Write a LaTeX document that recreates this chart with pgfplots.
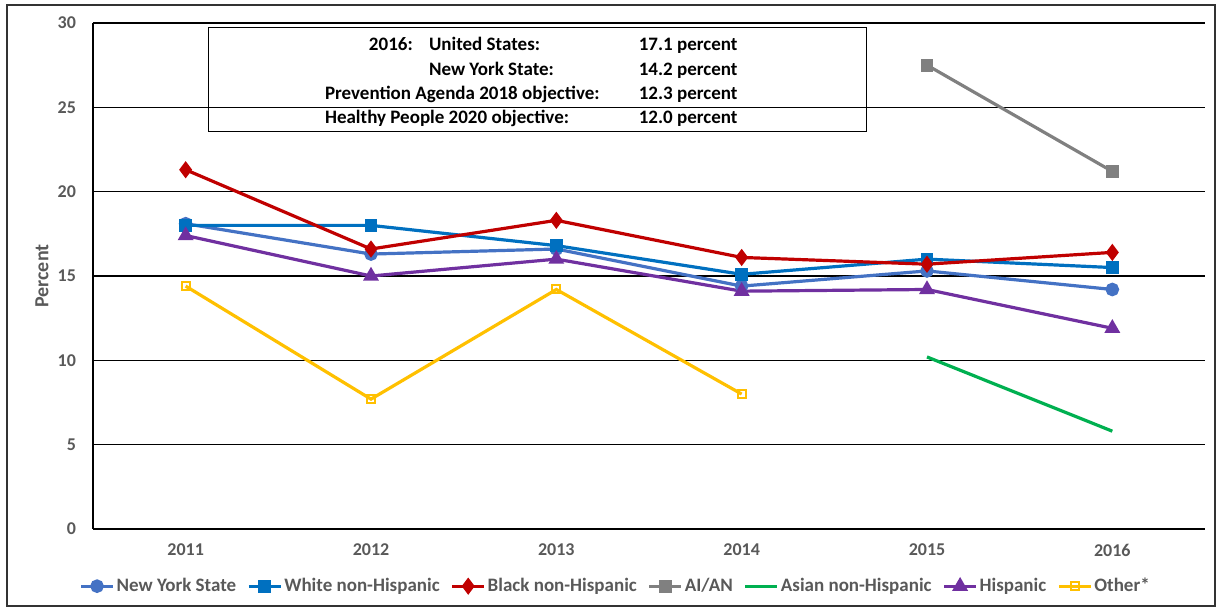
\documentclass[border=0pt]{standalone}
\usepackage{pgfplots}
\pgfplotsset{compat=1.18}
\usepackage{fontspec}
\setmainfont{Carlito}
\usetikzlibrary{calc}
\definecolor{nys}{HTML}{4472C4}
\definecolor{white1}{HTML}{0070C0}
\definecolor{black1}{HTML}{C00000}
\definecolor{aian}{HTML}{808080}
\definecolor{asian}{HTML}{00B050}
\definecolor{hisp}{HTML}{7030A0}
\definecolor{other}{HTML}{FFC000}
\definecolor{tickgray}{HTML}{595959}
\newcommand{\boxfont}{\fontsize{9.5}{11}\selectfont\bfseries}

\begin{document}
\begin{tikzpicture}
\begin{axis}[
  name=ax,
  scale only axis,
  width=556pt, height=253pt,
  xmin=-0.5, xmax=5.5,
  ymin=0, ymax=30,
  xtick={0,1,2,3,4,5},
  xticklabels={2011,2012,2013,2014,2015,2016},
  ytick={0,5,10,15,20,25,30},
  ymajorgrids=true,
  grid style={black, line width=0.6pt},
  axis x line*=bottom, axis y line*=left,
  axis line style={black, line width=0.6pt, -},
  major tick length=0pt,
  tick label style={font=\fontsize{9}{10}\selectfont\bfseries, text=tickgray},
  /pgf/number format/assume math mode=true,
  yticklabel style={xshift=-5pt},
  xticklabel style={yshift=-4pt},
  ylabel={Percent},
  ylabel style={font=\fontsize{10}{12}\selectfont\bfseries, text=tickgray,
    at={(axis description cs:-0.046,0.5)}, anchor=center},
  legend style={draw=none, fill=none, at={(axis description cs:0.47,-0.113)}, anchor=center,
    font=\fontsize{9.5}{11}\selectfont\bfseries, text=tickgray,
    /tikz/every odd column/.append style={column sep=0pt},
    /tikz/every even column/.append style={column sep=4.5pt},
    nodes={inner xsep=1pt}},
  legend columns=7,
  legend image code/.code={
    \draw[mark repeat=2,mark phase=2,#1] plot coordinates {(0cm,0cm) (0.28cm,0cm) (0.56cm,0cm)};},
  clip=false,
]
\addplot[color=nys, line width=1.6pt, mark=*, mark size=2.6pt] coordinates {
  (0,18.1) (1,16.3) (2,16.6) (3,14.4) (4,15.3) (5,14.2)};
\addlegendentry{New York State}
\addplot[color=white1, line width=1.6pt, mark=square*, mark size=2.4pt] coordinates {
  (0,18.0) (1,18.0) (2,16.8) (3,15.1) (4,16.0) (5,15.5)};
\addlegendentry{White non-Hispanic}
\addplot[color=black1, line width=1.6pt, mark=diamond*, mark size=3pt] coordinates {
  (0,21.3) (1,16.6) (2,18.3) (3,16.1) (4,15.7) (5,16.4)};
\addlegendentry{Black non-Hispanic}
\addplot[color=aian, line width=1.6pt, mark=square*, mark size=2.4pt] coordinates {
  (4,27.5) (5,21.2)};
\addlegendentry{AI/AN}
\addplot[color=asian, line width=1.6pt, no markers] coordinates {
  (4,10.2) (5,5.8)};
\addlegendentry{Asian non-Hispanic}
\addplot[color=hisp, line width=1.6pt, mark=triangle*, mark size=3pt] coordinates {
  (0,17.4) (1,15.0) (2,16.0) (3,14.1) (4,14.2) (5,11.9)};
\addlegendentry{Hispanic}
\addplot[color=other, line width=1.6pt, mark=square, mark size=2pt, mark options={line width=1pt}] coordinates {
  (0,14.4) (1,7.7) (2,14.2) (3,8.0)};
\addlegendentry{Other*}

\draw[black, line width=0.6pt] (axis cs:0.124,29.73) rectangle (axis cs:3.673,23.56);
\node[anchor=base west, inner sep=0pt, font=\boxfont] at (axis cs:0.987,28.35) {2016:};
\node[anchor=base west, inner sep=0pt, font=\boxfont] at (axis cs:1.311,28.35) {United States:};
\node[anchor=base west, inner sep=0pt, font=\boxfont] at (axis cs:1.311,26.87) {New York State:};
\node[anchor=base west, inner sep=0pt, font=\boxfont] at (axis cs:0.750,25.45) {Prevention Agenda 2018 objective:};
\node[anchor=base west, inner sep=0pt, font=\boxfont] at (axis cs:0.750,24.02) {Healthy People 2020 objective:};
\node[anchor=base west, inner sep=0pt, font=\boxfont] at (axis cs:2.443,28.35) {17.1 percent};
\node[anchor=base west, inner sep=0pt, font=\boxfont] at (axis cs:2.443,26.87) {14.2 percent};
\node[anchor=base west, inner sep=0pt, font=\boxfont] at (axis cs:2.443,25.45) {12.3 percent};
\node[anchor=base west, inner sep=0pt, font=\boxfont] at (axis cs:2.443,24.02) {12.0 percent};
\end{axis}
\draw[black!80, line width=0.7pt] ($(ax.south west)+(-43pt,-38.5pt)$) rectangle ($(ax.north east)+(5pt,9pt)$);
\pgfresetboundingbox
\path ($(ax.south west)+(-46.5pt,-40pt)$) rectangle ($(ax.north east)+(6pt,11.5pt)$);
\end{tikzpicture}
\end{document}
